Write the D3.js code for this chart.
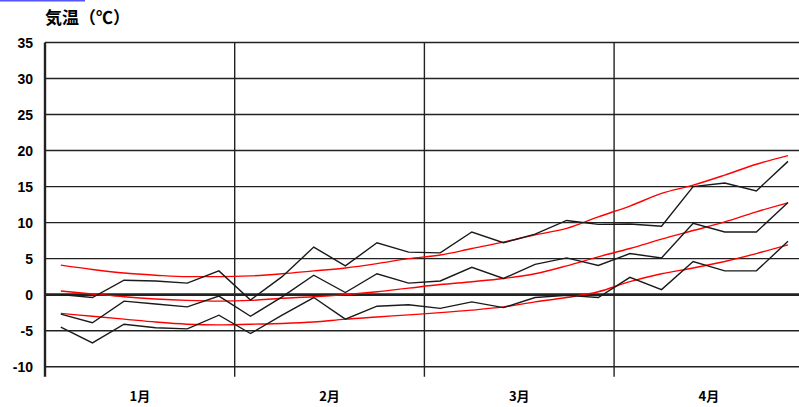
<!DOCTYPE html>
<html>
<head>
<meta charset="utf-8">
<script src="https://cdn.jsdelivr.net/npm/d3@7"></script>
<style>
  body { margin: 0; background: #fff; overflow: hidden; }
  svg { display: block; }
</style>
</head>
<body>
<div id="chart"></div>
<script>
const width = 799;
const height = 407;

// pentad values (6 per month, Jan - Apr)
const months = ["1月", "2月", "3月", "4月"];
const yTicks = [-10, -5, 0, 5, 10, 15, 20, 25, 30, 35];

const maxTemp = [0.0, -0.4, 2.0, 1.9, 1.6, 3.3, -0.75, 2.5, 6.6, 4.0, 7.2, 5.9,
  5.8, 8.7, 7.2, 8.4, 10.3, 9.75, 9.8, 9.5, 15.0, 15.5, 14.4, 18.5];
const meanTemp = [-2.7, -3.9, -0.9, -1.3, -1.7, -0.2, -3.0, -0.3, 2.7, 0.3, 2.9, 1.6,
  1.9, 3.8, 2.25, 4.2, 5.1, 4.05, 5.7, 5.1, 9.9, 8.7, 8.7, 12.8];
const minTemp = [-4.5, -6.7, -4.1, -4.6, -4.75, -2.85, -5.4, -2.85, -0.4, -3.4, -1.6, -1.4,
  -1.9, -1.0, -1.8, -0.4, -0.1, -0.4, 2.4, 0.7, 4.6, 3.3, 3.3, 7.4];

// normals
const normMax = [4.1, 3.5, 3.0, 2.7, 2.5, 2.5, 2.6, 2.9, 3.3, 3.7, 4.3, 5.0,
  5.5, 6.4, 7.3, 8.3, 9.2, 10.8, 12.3, 14.05, 15.2, 16.6, 18.1, 19.3];
const normMean = [0.5, 0.1, -0.3, -0.6, -0.8, -0.9, -0.8, -0.5, -0.3, 0.0, 0.4, 0.9,
  1.4, 1.8, 2.25, 2.9, 4.0, 5.25, 6.4, 7.7, 8.9, 10.1, 11.5, 12.75];
const normMin = [-2.6, -3.0, -3.4, -3.8, -4.1, -4.2, -4.1, -4.0, -3.8, -3.4, -3.1, -2.8,
  -2.5, -2.15, -1.7, -1.0, -0.4, 0.4, 1.8, 2.9, 3.7, 4.6, 5.7, 6.9];

const plotLeft = 45;
const plotTop = 42.5;
const plotBottom = 366.7;

const svg = d3
  .select("#chart")
  .append("svg")
  .attr("width", width)
  .attr("height", height);

// x in pentads, 0..24 (month boundary every 6)
const xScale = d3.scaleLinear().domain([0, 24]).range([plotLeft, plotLeft + 4 * 189.7]);
const yScale = d3.scaleLinear().domain([-10, 35]).range([plotBottom, plotTop]);

// small blue mark at the top left
svg.append("rect")
  .attr("x", 0).attr("y", 0)
  .attr("width", 85).attr("height", 1.5)
  .attr("fill", "#5555ff");

// title
svg.append("text")
  .attr("x", plotLeft)
  .attr("y", 24)
  .style("font-family", "'Noto Sans CJK JP', sans-serif")
  .style("font-weight", "bold")
  .style("font-size", "17px")
  .text("気温（℃）");

// horizontal grid
svg.append("g")
  .selectAll("line")
  .data(yTicks)
  .enter()
  .append("line")
  .attr("x1", plotLeft)
  .attr("x2", width + 10)
  .attr("y1", (d) => yScale(d))
  .attr("y2", (d) => yScale(d))
  .attr("stroke", "#222")
  .attr("stroke-width", (d) => (d === 0 ? 2.6 : 1.4));

// month boundaries
svg.append("g")
  .selectAll("line")
  .data(d3.range(0, 5))
  .enter()
  .append("line")
  .attr("x1", (d) => xScale(d * 6))
  .attr("x2", (d) => xScale(d * 6))
  .attr("y1", plotTop)
  .attr("y2", plotBottom + 10)
  .attr("stroke", "#222")
  .attr("stroke-width", (d) => (d === 0 ? 2.4 : 1.4));

// y labels
svg.append("g")
  .selectAll("text")
  .data(yTicks)
  .enter()
  .append("text")
  .attr("x", 33)
  .attr("y", (d) => yScale(d) + 5)
  .attr("text-anchor", "end")
  .style("font-family", "'Liberation Sans', Arial, sans-serif")
  .style("font-weight", "bold")
  .style("font-size", "14px")
  .text((d) => d);

// month labels
svg.append("g")
  .selectAll("text")
  .data(months)
  .enter()
  .append("text")
  .attr("x", (d, i) => xScale(i * 6 + 3))
  .attr("y", 401)
  .attr("text-anchor", "middle")
  .style("font-family", "'Noto Sans CJK JP', sans-serif")
  .style("font-weight", "bold")
  .style("font-size", "13px")
  .text((d) => d);

const line = d3.line()
  .x((d, i) => xScale(i + 0.5))
  .y((d) => yScale(d));

const smooth = d3.line()
  .x((d, i) => xScale(i + 0.5))
  .y((d) => yScale(d))
  .curve(d3.curveMonotoneX);

[normMax, normMean, normMin].forEach((s) => {
  svg.append("path")
    .attr("d", smooth(s))
    .attr("fill", "none")
    .attr("stroke", "#ff0000")
    .attr("stroke-width", 1.4);
});

[maxTemp, meanTemp, minTemp].forEach((s) => {
  svg.append("path")
    .attr("d", line(s))
    .attr("fill", "none")
    .attr("stroke", "#1a1a1a")
    .attr("stroke-width", 1.4);
});
</script>
</body>
</html>
